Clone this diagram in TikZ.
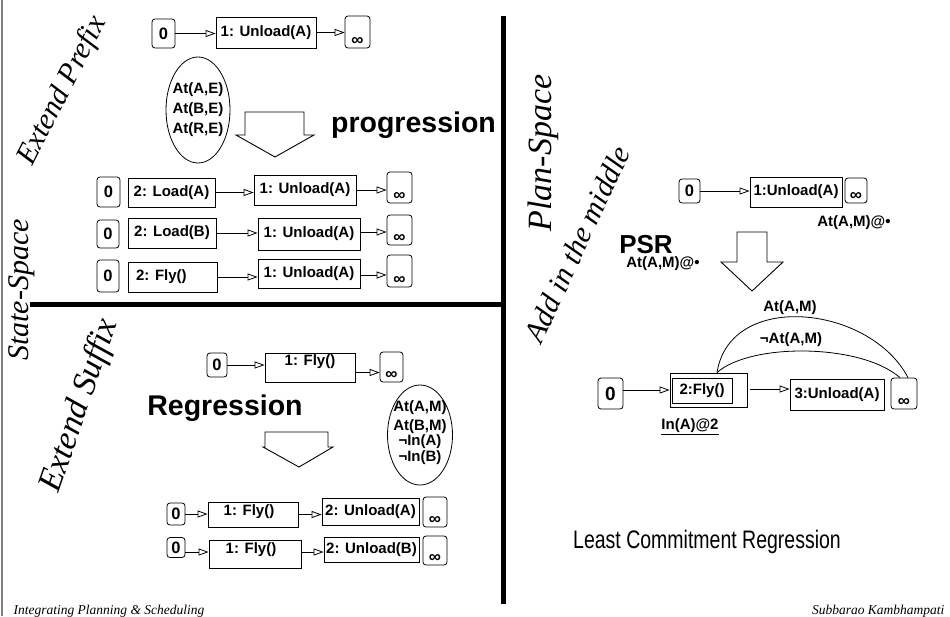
\documentclass[tikz,border=0pt]{standalone}
\usepackage{fontspec}
\setmainfont{Liberation Sans}
\newfontfamily\serifit{Liberation Serif}
\usetikzlibrary{arrows.meta,shapes.geometric}

\tikzset{
  every node/.style={font=\fontsize{15}{17}\selectfont\bfseries},
  bx/.style={draw, line width=0.8pt, inner sep=0pt},
  zbox/.style={draw, line width=0.8pt, rounded corners=3pt, inner sep=0pt,
    font=\fontsize{16.5}{17}\selectfont\bfseries},
  infbox/.style={draw, line width=0.8pt, rounded corners=3pt, inner sep=0pt,
    minimum width=24pt, minimum height=30pt,
    label={[anchor=south, inner sep=2.5pt, font=\fontsize{17}{17}\selectfont\bfseries]south:∞}},
  lnk/.style={line width=0.8pt, -{Triangle[open, length=10pt, width=7pt]}},
  bigarrow/.style={draw, line width=0.9pt, line join=miter},
  side/.style={font=\serifit\itshape\fontsize{30}{30}\selectfont},
  oval/.style={draw, ellipse, line width=0.8pt, inner sep=0pt},
  ovaltext/.style={align=center},
  headline/.style={font=\fontsize{28.5}{30}\selectfont\bfseries, anchor=base},
  small/.style={font=\fontsize{15}{17}\selectfont\bfseries},
  foot/.style={font=\serifit\itshape\fontsize{13.5}{13.5}\selectfont, anchor=base},
  divider/.style={line width=5pt},
}

\begin{document}
\begin{tikzpicture}[x=1pt,y=-1pt]
\useasboundingbox (0,0) rectangle (950,616);
\fill[white] (0,0) rectangle (950,616);

% frame edge and the two dividers
\draw[gray, line width=1.5pt] (2,0) -- (2,616);
\draw[divider] (503,16) -- (503,604);
\draw[divider] (30,304) -- (503,304);

% rotated side captions
\node[side, rotate=63] (extpre) at (63,91) {Extend Prefix};
\node[side, rotate=90] (statesp) at (22,290) {State-Space};
\node[side, rotate=71, font=\serifit\itshape\fontsize{34}{34}\selectfont] (extsuf) at (80,406) {Extend Suffix};
\node[side, rotate=90, font=\serifit\itshape\fontsize{34}{34}\selectfont] (plansp) at (543,153) {Plan-Space};
\node[side, rotate=65] (addmid) at (577,244) {Add in the middle};

% ---------- progression (top left) ----------
\node[zbox, minimum width=23pt, minimum height=29pt] (p0) at (163.5,33.5) {0};
\node[bx, minimum width=100pt, minimum height=31pt] (pu) at (266,32.5) {1: Unload(A)};
\node[infbox, minimum width=25pt, minimum height=32pt] (pinf) at (357.5,32) {};
\draw[lnk] (p0.east) -- (p0.east -| pu.west);
\draw[lnk] (pu.east) -- (pu.east -| pinf.west);

\node[oval, minimum width=64pt, minimum height=106pt] (pstate) at (198,110) {};
\node[ovaltext, font=\fontsize{15}{20}\selectfont\bfseries] (pstatetxt) at (pstate) {At(A,E)\\At(B,E)\\At(R,E)};

\draw[bigarrow] (245,112) -- (304,112) -- (304,135) -- (314,135) -- (275,157)
  -- (236,135) -- (245,135) -- cycle;
\node[headline] (progr) at (413.5,132) {progression};

% row 1
\node[zbox, minimum width=23pt, minimum height=30pt] (a0) at (108.5,192) {0};
\node[bx, minimum width=87pt, minimum height=29pt] (a2) at (171.5,192.5) {2: Load(A)};
\node[bx, minimum width=102pt, minimum height=30pt] (a1) at (305,190) {1: Unload(A)};
\node[infbox, minimum width=25pt, minimum height=31pt] (ainf) at (399.5,187.5) {};
\draw[lnk] (a2.east) -- (a2.east -| a1.west);
\draw[lnk] (a1.east) -- (a1.east -| ainf.west);
% row 2
\node[zbox, minimum width=22pt, minimum height=28pt] (b0) at (108,234) {0};
\node[bx, minimum width=88pt, minimum height=30pt] (b2) at (172,233) {2: Load(B)};
\node[bx, minimum width=102pt, minimum height=32pt] (b1) at (309,234) {1: Unload(A)};
\node[infbox, minimum width=25pt, minimum height=30pt] (binf) at (399.5,230) {};
\draw[lnk] (b2.east) -- (b2.east -| b1.west);
\draw[lnk] ([yshift=2pt]b1.east) -- ([yshift=2pt]b1.east -| binf.west);
% row 3
\node[zbox, minimum width=22pt, minimum height=32pt] (c0) at (108,276) {0};
\node[bx, minimum width=89pt, minimum height=30pt] (c2) at (172.5,277) {};
\node[anchor=west] (c2txt) at ([xshift=5pt]c2.west) {2: Fly()};
\node[bx, minimum width=102pt, minimum height=29pt] (c1) at (309,273.5) {1: Unload(A)};
\node[infbox, minimum width=25pt, minimum height=32pt] (cinf) at (399.5,271) {};
\draw[lnk] (c2.east) -- (c2.east -| c1.west);
\draw[lnk] ([yshift=-1.5pt]c1.east) -- ([yshift=-1.5pt]c1.east -| cinf.west);

% ---------- regression (bottom left) ----------
\node[zbox, minimum width=20pt, minimum height=24pt] (r0) at (217,365) {0};
\node[bx, minimum width=90pt, minimum height=29pt] (rf) at (310,367.5) {};
\node (rftxt) at (310,362) {1: Fly()};
\node[infbox, minimum width=23pt, minimum height=30pt] (rinf) at (391.5,367) {};
\draw[lnk] (r0.east) -- (r0.east -| rf.west);
\draw[lnk] ([yshift=-5pt]rf.east) -- ([yshift=-5pt]rf.east -| rinf.west);

\node[headline] (regr) at (225,415) {Regression};
\draw[bigarrow] (265,432) -- (328,432) -- (328,447) -- (333,447) -- (299,467)
  -- (263,447) -- (265,447) -- cycle;

\node[oval, minimum width=65pt, minimum height=100pt] (rgoal) at (420,435) {};
\node[ovaltext, font=\fontsize{15}{19}\selectfont\bfseries] (rgoaltxt) at (420,433)
  {At(A,M)\\At(B,M)\\[-4pt]¬In(A)\\[-3pt]¬In(B)};

% row A
\node[zbox, minimum width=18pt, minimum height=22pt] (s0) at (176,514) {0};
\node[bx, minimum width=90pt, minimum height=25pt] (s1) at (253,514.5) {};
\node (s1txt) at (249,512) {1: Fly()};
\node[bx, minimum width=97pt, minimum height=27pt] (s2) at (370.5,511.5) {2: Unload(A)};
\node[infbox, minimum width=24pt, minimum height=30pt] (sinf) at (435,512) {};
\draw[lnk] (s0.east) -- (s0.east -| s1.west);
\draw[lnk] (s1.east) -- (s1.east -| s2.west);
% row B
\node[zbox, minimum width=18pt, minimum height=20pt] (t0) at (176,547.5) {0};
\node[bx, minimum width=92pt, minimum height=28pt] (t1) at (255,554) {};
\node (t1txt) at (251,550) {1: Fly()};
\node[bx, minimum width=95pt, minimum height=25pt] (t2) at (371.5,549.5) {2: Unload(B)};
\node[infbox, minimum width=24pt, minimum height=29pt] (tinf) at (435,550.5) {};
\draw[lnk] ([yshift=-4.5pt]t0.east) -- ([yshift=-4.5pt]t0.east -| t1.west);
\draw[lnk] ([yshift=2pt]t1.east) -- ([yshift=2pt]t1.east -| t2.west);

% ---------- plan-space refinement (right) ----------
\node[zbox, minimum width=21pt, minimum height=24pt] (q0) at (689.5,191) {0};
\node[bx, minimum width=92pt, minimum height=30pt] (q1) at (796,192) {1:Unload(A)};
\node[infbox, minimum width=22pt, minimum height=25pt] (qinf) at (856,190.5) {};
\draw[lnk] (q0.east) -- (q0.east -| q1.west);
\node[small] (qcond) at (854,223) {At(A,M)@•};

\node[font=\fontsize{26}{28}\selectfont\bfseries, anchor=base] (psr) at (646,253) {PSR};
\node[small] (psrcond) at (663,264) {At(A,M)@•};
\draw[bigarrow] (737,232) -- (767,232) -- (767,262) -- (783,262) -- (752,291)
  -- (721,262) -- (737,262) -- cycle;

\node[zbox, minimum width=25pt, minimum height=31pt, font=\fontsize{19}{19}\selectfont\bfseries] (v0) at (610.5,393.5) {0};
\node[bx, minimum width=77pt, minimum height=34pt] (vfo) at (708.5,390) {};
\node[bx, minimum width=60pt, minimum height=25pt] (vfi) at (702,390.5) {2:Fly()};
\node[bx, minimum width=94pt, minimum height=31pt] (v3) at (837,394.5) {3:Unload(A)};
\node[infbox, minimum width=26pt, minimum height=31pt] (vinf) at (904,393.5) {};
\draw[lnk] (v0.east |- vfo.east) -- (vfo.west);
\draw[lnk] ([xshift=3pt,yshift=1pt]vfo.east) -- ([yshift=1pt]vfo.east -| v3.west);
\node (vcond) at (690,427) {\underline{In(A)@2}};

% causal links from 2:Fly() to the goal step
\draw[line width=0.8pt] ([xshift=8.5pt]vfo.north) .. controls (730,290) and (870,305) .. ([xshift=4pt]vinf.north);
\draw[line width=0.8pt] ([xshift=8.5pt]vfo.north) .. controls (750,343) and (860,343) .. ([xshift=-4pt]vinf.north);
\node (linkpos) at (790,308) {At(A,M)};
\node (linkneg) at (791,340) {¬At(A,M)};

\node[font=\fontsize{19.5}{20}\selectfont, anchor=base] (lcr) at (707,548)
  {\scalebox{1}[1.3]{Least Commitment Regression}};

% footers
\node[foot, anchor=base west] (footl) at (10,614) {Integrating Planning \& Scheduling};
\node[foot, anchor=base east] (footr) at (948,614) {Subbarao Kambhampati};
\end{tikzpicture}
\end{document}
